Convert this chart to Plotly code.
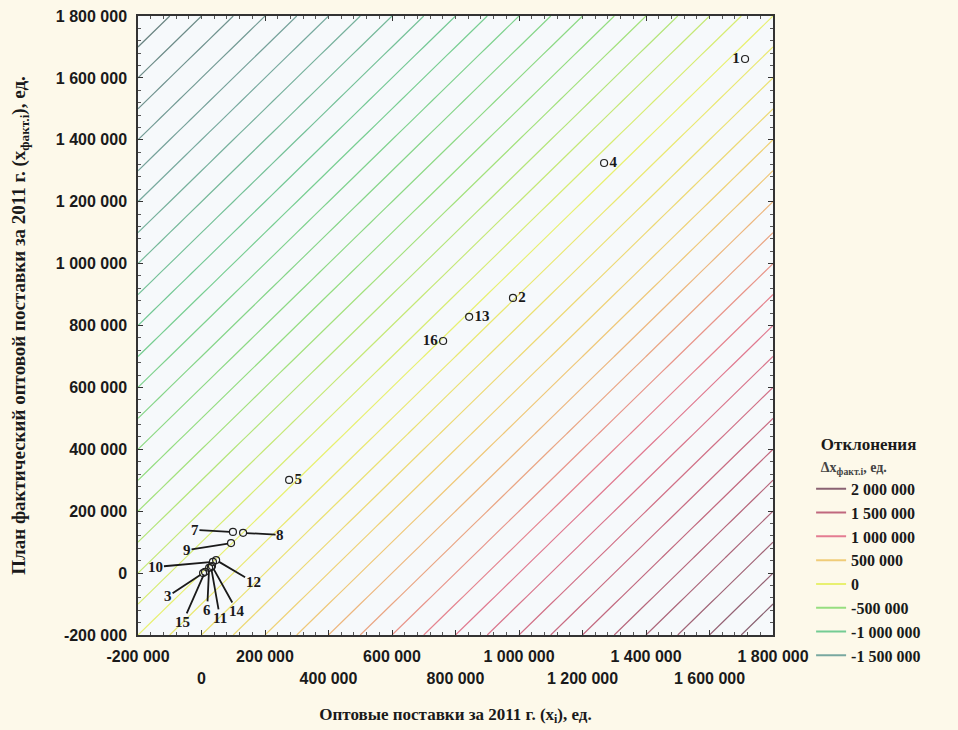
import numpy as np
import plotly.graph_objects as go
from plotly.colors import sample_colorscale

# ---------------- data ----------------
point_ids = ["1", "2", "3", "4", "5", "6", "7", "8", "9", "10", "11", "12", "13", "14", "15", "16"]
wholesale_x = [1712000, 981000, 5000, 1268000, 276000, 24000, 99000, 131000, 93000,
               36000, 30000, 46000, 843000, 33000, 11000, 761000]
plan_fact_y = [1661000, 889000, 0, 1325000, 301000, 17000, 133000, 130000, 97000,
               36000, 20000, 42000, 828000, 23000, 4000, 750000]

axis_ticks = [-200000, 0, 200000, 400000, 600000, 800000, 1000000, 1200000, 1400000, 1600000, 1800000]
axis_tick_text = ["-200 000", "0", "200 000", "400 000", "600 000", "800 000",
                  "1 000 000", "1 200 000", "1 400 000", "1 600 000", "1 800 000"]

legend_levels = [2000000, 1500000, 1000000, 500000, 0, -500000, -1000000, -1500000]
legend_labels = ["2 000 000", "1 500 000", "1 000 000", "500 000", "0",
                 "-500 000", "-1 000 000", "-1 500 000"]

contour_step = 100000

# ---------------- styles ----------------
AX_MIN, AX_MAX = -200000, 1800000
ZMIN, ZMAX = -2000000, 2000000
colorscale = [
    [0.0, "#6a8482"],
    [0.125, "#78a8a0"],
    [0.25, "#74cc94"],
    [0.375, "#96de80"],
    [0.5, "#e8f070"],
    [0.625, "#f0cc78"],
    [0.75, "#e47c92"],
    [0.875, "#c0687e"],
    [1.0, "#8a6272"],
]

inline_pos = {"1": "middle left", "2": "middle right", "4": "middle right",
              "13": "middle right", "16": "middle left", "5": "middle right"}
leader_offsets = {"7": (-38, -2), "8": (37, 2), "9": (-44, 7), "10": (-57, 5),
                  "12": (37, 22), "3": (-35, 23), "15": (-22, 50), "6": (-2, 42),
                  "11": (9, 51), "14": (25, 45)}

SERIF = "Liberation Serif, Times New Roman, serif"
SANS = "Liberation Sans, Arial, sans-serif"
PAPER = "#fdf9ea"
TXT = "#1a1a1a"

# ---------------- contour field: deviation = x - y ----------------
gx = np.linspace(AX_MIN, AX_MAX, 41)
gy = np.linspace(AX_MIN, AX_MAX, 41)
GX, GY = np.meshgrid(gx, gy)
Z = GX - GY

fig = go.Figure()
fig.add_trace(go.Contour(
    x=gx, y=gy, z=Z,
    contours=dict(coloring="lines", start=ZMIN + contour_step, end=ZMAX - contour_step,
                  size=contour_step, showlabels=False),
    colorscale=colorscale, zmin=ZMIN, zmax=ZMAX,
    line=dict(width=1.2), showscale=False, hoverinfo="skip", showlegend=False,
))

leg_cols = sample_colorscale(colorscale, [(v - ZMIN) / (ZMAX - ZMIN) for v in legend_levels])
for lab, col in zip(legend_labels, leg_cols):
    fig.add_trace(go.Scatter(x=[None], y=[None], mode="lines", name=lab,
                             line=dict(color=col, width=2)))

marker_style = dict(symbol="circle-open", size=7, color="#222", line=dict(width=1.2))

# points with inline labels
ids_in = [p for p in point_ids if p in inline_pos]
fig.add_trace(go.Scatter(
    x=[wholesale_x[point_ids.index(p)] for p in ids_in],
    y=[plan_fact_y[point_ids.index(p)] for p in ids_in],
    mode="markers+text", text=ids_in, textposition=[inline_pos[p] for p in ids_in],
    textfont=dict(family=SERIF, size=15, color=TXT, weight="bold"),
    marker=marker_style, showlegend=False, hoverinfo="skip", cliponaxis=False,
))

# points with leader-line labels
ids_ld = [p for p in point_ids if p not in inline_pos]
fig.add_trace(go.Scatter(
    x=[wholesale_x[point_ids.index(p)] for p in ids_ld],
    y=[plan_fact_y[point_ids.index(p)] for p in ids_ld],
    mode="markers", marker=marker_style, showlegend=False, hoverinfo="skip",
))
for p in ids_ld:
    i = point_ids.index(p)
    ax, ay = leader_offsets[p]
    fig.add_annotation(x=wholesale_x[i], y=plan_fact_y[i], xref="x", yref="y",
                       text="<b>%s</b>" % p,
                       showarrow=True, arrowhead=0, arrowwidth=1.8, arrowcolor=TXT,
                       ax=ax, ay=ay, standoff=3,
                       font=dict(family=SERIF, size=15, color=TXT), borderpad=0)

fig.add_trace(go.Scatter(x=[None], y=[None], xaxis="x2", yaxis="y",
                         showlegend=False, hoverinfo="skip"))

row1_vals, row1_text = axis_ticks[0::2], axis_tick_text[0::2]
row2_vals, row2_text = axis_ticks[1::2], axis_tick_text[1::2]

tickfont = dict(family=SANS, size=16, color=TXT, weight="bold")

fig.update_layout(
    width=958, height=730,
    margin=dict(l=130, r=193, t=8, b=103, autoexpand=False),
    paper_bgcolor=PAPER,
    plot_bgcolor="#f6f9fb",
    showlegend=True,
    xaxis=dict(
        range=[AX_MIN, AX_MAX], tickvals=row1_vals, ticktext=row1_text,
        tickfont=tickfont, ticks="inside", ticklen=5, tickcolor="#333",
        showline=True, linecolor="#333", linewidth=1.5, mirror="ticks",
        showgrid=False, zeroline=False, ticklabelstandoff=6, automargin=False,
        ticklabeloverflow="allow",
        minor=dict(ticks="inside", ticklen=3, dtick=40000, tickcolor="#555"),
        title=dict(text="<b>Оптовые поставки за 2011 г. (x<sub>i</sub>), ед.</b>",
                   font=dict(family=SERIF, size=17, color=TXT), standoff=44),
    ),
    xaxis2=dict(
        range=[AX_MIN, AX_MAX], overlaying="x", anchor="y", side="bottom",
        tickvals=row2_vals, ticktext=row2_text, tickfont=tickfont,
        ticks="inside", ticklen=5, tickcolor="#333",
        showline=False, showgrid=False, zeroline=False,
        ticklabelstandoff=32, automargin=False, ticklabeloverflow="allow",
    ),
    yaxis=dict(
        range=[AX_MIN, AX_MAX], tickvals=axis_ticks, ticktext=axis_tick_text,
        tickfont=tickfont, ticks="inside", ticklen=5, tickcolor="#333",
        showline=True, linecolor="#333", linewidth=1.5, mirror="ticks",
        showgrid=False, zeroline=False, ticklabelstandoff=6, automargin=False,
        ticklabeloverflow="allow",
        minor=dict(ticks="inside", ticklen=3, dtick=40000, tickcolor="#555"),
        title=dict(text="<b>План фактический оптовой поставки за 2011 г. (x<sub>факт.i</sub>), ед.</b>",
                   font=dict(family=SERIF, size=19, color=TXT), standoff=25),
    ),
    legend=dict(
        x=1.06, xanchor="left", y=0.335, yanchor="top",
        bgcolor="rgba(0,0,0,0)",
        font=dict(family=SERIF, size=16, color=TXT, weight="bold"),
        title=dict(text="<b>Отклонения</b><br><span style='font-size:14px;color:#444'>Δx<sub>факт.i</sub>, ед.</span>",
                   font=dict(family=SERIF, size=17, color=TXT), side="top center"),
        itemwidth=30, tracegroupgap=0,
    ),
)

fig.write_html("out.html", post_script="document.body.style.background='%s';" % PAPER)
